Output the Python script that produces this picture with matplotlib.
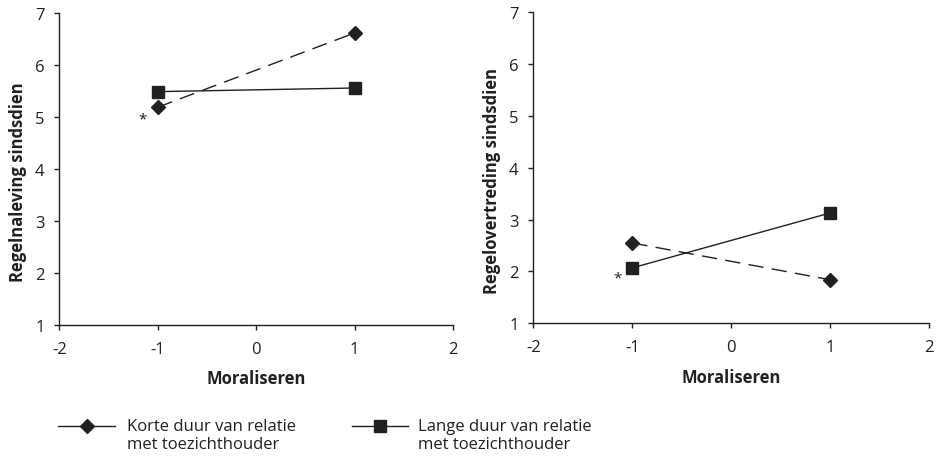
import matplotlib.pyplot as plt
from matplotlib.lines import Line2D

plt.rcParams['font.family'] = ['Open Sans', 'DejaVu Sans']
plt.rcParams['axes.unicode_minus'] = False

x = [-1, 1]
naleving_kort = [5.19, 6.62]
naleving_lang = [5.49, 5.56]
overtreding_kort = [2.55, 1.84]
overtreding_lang = [2.07, 3.13]
ylabels = ['Regelnaleving sindsdien', 'Regelovertreding sindsdien']
star_pos = [(-1.15, 4.96), (-1.15, 1.88)]
legend_labels = ['Korte duur van relatie\nmet toezichthouder',
                 'Lange duur van relatie\nmet toezichthouder']

ink = '#231f20'
W, H = 936, 460
fig = plt.figure(figsize=(W / 100, H / 100), dpi=100)
ax1 = fig.add_axes([0.0634, 0.292, 0.4206, 0.677])
ax2 = fig.add_axes([0.5698, 0.295, 0.4231, 0.676])

series = [(naleving_kort, naleving_lang), (overtreding_kort, overtreding_lang)]
for ax, (kort, lang), ylab, star in zip([ax1, ax2], series, ylabels, star_pos):
    ax.plot(x, kort, color=ink, lw=1, dashes=(11, 6), marker='D', ms=7, zorder=3)
    ax.plot(x, lang, color=ink, lw=1, marker='s', ms=9, zorder=3)
    ax.text(star[0], star[1], '*', ha='center', va='center', fontsize=11, color=ink)
    ax.set_xlim(-2, 2)
    ax.set_ylim(1, 7)
    ax.set_xticks([-2, -1, 0, 1, 2])
    ax.set_yticks(range(1, 8))
    ax.spines['top'].set_visible(False)
    ax.spines['right'].set_visible(False)
    for s in ['left', 'bottom']:
        ax.spines[s].set_color(ink)
        ax.spines[s].set_linewidth(1)
    ax.tick_params(direction='out', length=3.6, width=1, color=ink,
                   labelsize=12, labelcolor=ink)
    ax.tick_params(axis='x', pad=8)
    ax.tick_params(axis='y', pad=7)
    ax.set_ylabel(ylab, fontsize=12, fontweight='bold', color=ink, labelpad=6, y=0.46)
    ax.set_xlabel('Moraliseren', fontsize=12, fontweight='bold', color=ink, labelpad=9)

# legend below the panels, handle aligned with the first text line
entries = [('D', 7, 58, 115, 127), ('s', 9, 352, 408, 418)]
for (mk, ms, x0, x1, xt), lab in zip(entries, legend_labels):
    yl = 1 - 427 / H
    fig.add_artist(Line2D([x0 / W, x1 / W], [yl, yl], color=ink, lw=1,
                          transform=fig.transFigure))
    fig.add_artist(Line2D([(x0 + x1) / 2 / W], [yl], color=ink, marker=mk, ms=ms,
                          transform=fig.transFigure))
    fig.text(xt / W, 1 - 436 / H, lab, ha='left', va='center', fontsize=12,
             color=ink, linespacing=1.1)

fig.savefig('out.png', dpi=100)
